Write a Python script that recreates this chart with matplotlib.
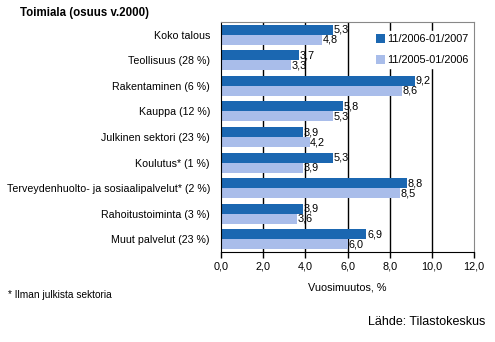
import matplotlib
matplotlib.use("Agg")
import matplotlib.pyplot as plt
import numpy as np

plt.rcParams['font.family'] = ['Liberation Sans', 'DejaVu Sans']

categories = ["Koko talous", "Teollisuus (28 %)", "Rakentaminen (6 %)", "Kauppa (12 %)",
              "Julkinen sektori (23 %)", "Koulutus* (1 %)",
              "Terveydenhuolto- ja sosiaalipalvelut* (2 %)", "Rahoitustoiminta (3 %)",
              "Muut palvelut (23 %)"]
series_2007 = [5.3, 3.7, 9.2, 5.8, 3.9, 5.3, 8.8, 3.9, 6.9]
series_2006 = [4.8, 3.3, 8.6, 5.3, 4.2, 3.9, 8.5, 3.6, 6.0]
labels = ["11/2006-01/2007", "11/2005-01/2006"]
xticks = [0, 2, 4, 6, 8, 10, 12]

dark = '#1b67b1'
light = '#a9bdea'

fig = plt.figure(figsize=(4.95, 3.42), dpi=100)
ax = fig.add_axes([0.4465, 0.263, 0.5111, 0.6727])

n = len(categories)
y = np.arange(n)
h = 0.39
ax.barh(y - h/2, series_2007, height=h, color=dark, label=labels[0], zorder=2)
ax.barh(y + h/2, series_2006, height=h, color=light, label=labels[1], zorder=2)

fs = 7.8
for yy, v in zip(y - h/2, series_2007):
    ax.text(v + 0.03, yy, f"{v:.1f}".replace('.', ','), va='center', ha='left', fontsize=fs, zorder=3)
for yy, v in zip(y + h/2, series_2006):
    ax.text(v + 0.03, yy, f"{v:.1f}".replace('.', ','), va='center', ha='left', fontsize=fs, zorder=3)

ax.set_ylim(n - 0.5, -0.5)
ax.set_xlim(0, 12)
ax.set_yticks(y)
ax.set_yticklabels(categories, fontsize=7.65)
ax.tick_params(axis='y', length=0, pad=8)
ax.set_xticks(xticks)
ax.set_xticklabels([f"{t:.1f}".replace('.', ',') for t in xticks], fontsize=fs)
ax.tick_params(axis='x', direction='out', length=4, pad=3, width=1)
for t in xticks[1:-1]:
    ax.axvline(t, color='black', lw=1, zorder=1)
ax.spines['top'].set_color('#888888')
ax.spines['right'].set_color('#888888')
ax.spines['left'].set_color('black')
ax.spines['bottom'].set_color('black')
ax.set_xlabel("Vuosimuutos, %", fontsize=fs, labelpad=8)

leg = ax.legend(loc='upper right', bbox_to_anchor=(1.0, 0.97), fontsize=fs, frameon=True,
                fancybox=False, edgecolor='white', framealpha=1, handlelength=0.8,
                handleheight=0.8, handletextpad=0.2, labelspacing=1.0, borderpad=0.3,
                borderaxespad=0.2)
leg.set_zorder(4)

fig.text(20/495, 1 - 13/342, "Toimiala (osuus v.2000)", fontsize=8.3, fontweight='bold', va='center', ha='left')
fig.text(8/495, 1 - 295/342, "* Ilman julkista sektoria", fontsize=7.3, va='center', ha='left')
fig.text(485/495, 1 - 322/342, "Lähde: Tilastokeskus", fontsize=9, va='center', ha='right')

fig.savefig("out.png", dpi=100)
